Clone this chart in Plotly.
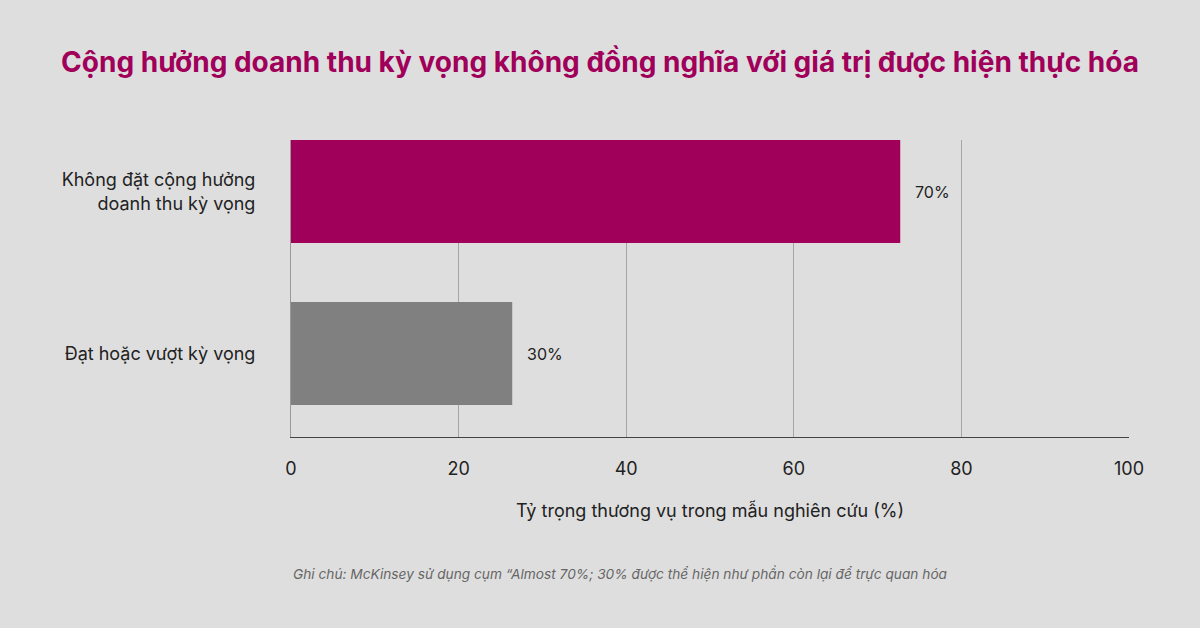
import plotly.graph_objects as go

categories = ["Không đặt cộng hưởng<br>doanh thu kỳ vọng", "Đạt hoặc vượt kỳ vọng"]
# bar lengths as drawn against the axis in the picture
values = [72.7, 26.4]
labels = ["70%", "30%"]
colors = ["#A0005A", "#808080"]

x_ticks = [0, 20, 40, 60, 80, 100]

title = "Cộng hưởng doanh thu kỳ vọng không đồng nghĩa với giá trị được hiện thực hóa"
x_title = "Tỷ trọng thương vụ trong mẫu nghiên cứu (%)"
note = "Ghi chú: McKinsey sử dụng cụm “Almost 70%; 30% được thể hiện như phần còn lại để trực quan hóa"

fig = go.Figure(go.Bar(
    x=values, y=categories, orientation="h",
    marker=dict(color=colors, line=dict(width=0)),
    width=0.636, hoverinfo="skip",
))

for v, lab, cat in zip(values, labels, categories):
    fig.add_annotation(x=v, y=cat, text=lab, showarrow=False,
                       xanchor="left", xshift=13,
                       font=dict(family="Inter", size=16, color="#222222"))

fig.add_annotation(xref="paper", yref="paper", x=0, y=-0.46, text=note,
                   showarrow=False, xanchor="left", yanchor="middle",
                   font=dict(family="Inter", size=13.7, color="#666666", style="italic"))

fig.update_layout(
    width=1200, height=628,
    margin=dict(l=291, r=71, t=140, b=191),
    paper_bgcolor="#dedede", plot_bgcolor="rgba(0,0,0,0)",
    showlegend=False,
    title=dict(text=f"<b>{title}</b>", x=0.5, xanchor="center",
               y=1 - 62 / 628, yanchor="middle",
               font=dict(family="Inter", size=28, color="#A0005A")),
    font=dict(family="Inter", size=18, color="#222222"),
)

fig.update_xaxes(
    range=[0, 100], tickvals=x_ticks, showgrid=True, gridcolor="#a6a6a6",
    gridwidth=1, zeroline=False, showline=True, linecolor="#444444",
    ticks="", ticklabelstandoff=15,
    title=dict(text=x_title, standoff=26, font=dict(size=18)),
    tickfont=dict(size=18, color="#222222"),
)
fig.update_yaxes(
    range=[1.515, -0.318], showgrid=False, showline=True, linecolor="#999999",
    ticks="", ticklabelstandoff=31, tickfont=dict(size=18, color="#222222"),
)

fig.write_html("out.html", config={"displayModeBar": False},
               post_script="document.body.style.margin='0';")
